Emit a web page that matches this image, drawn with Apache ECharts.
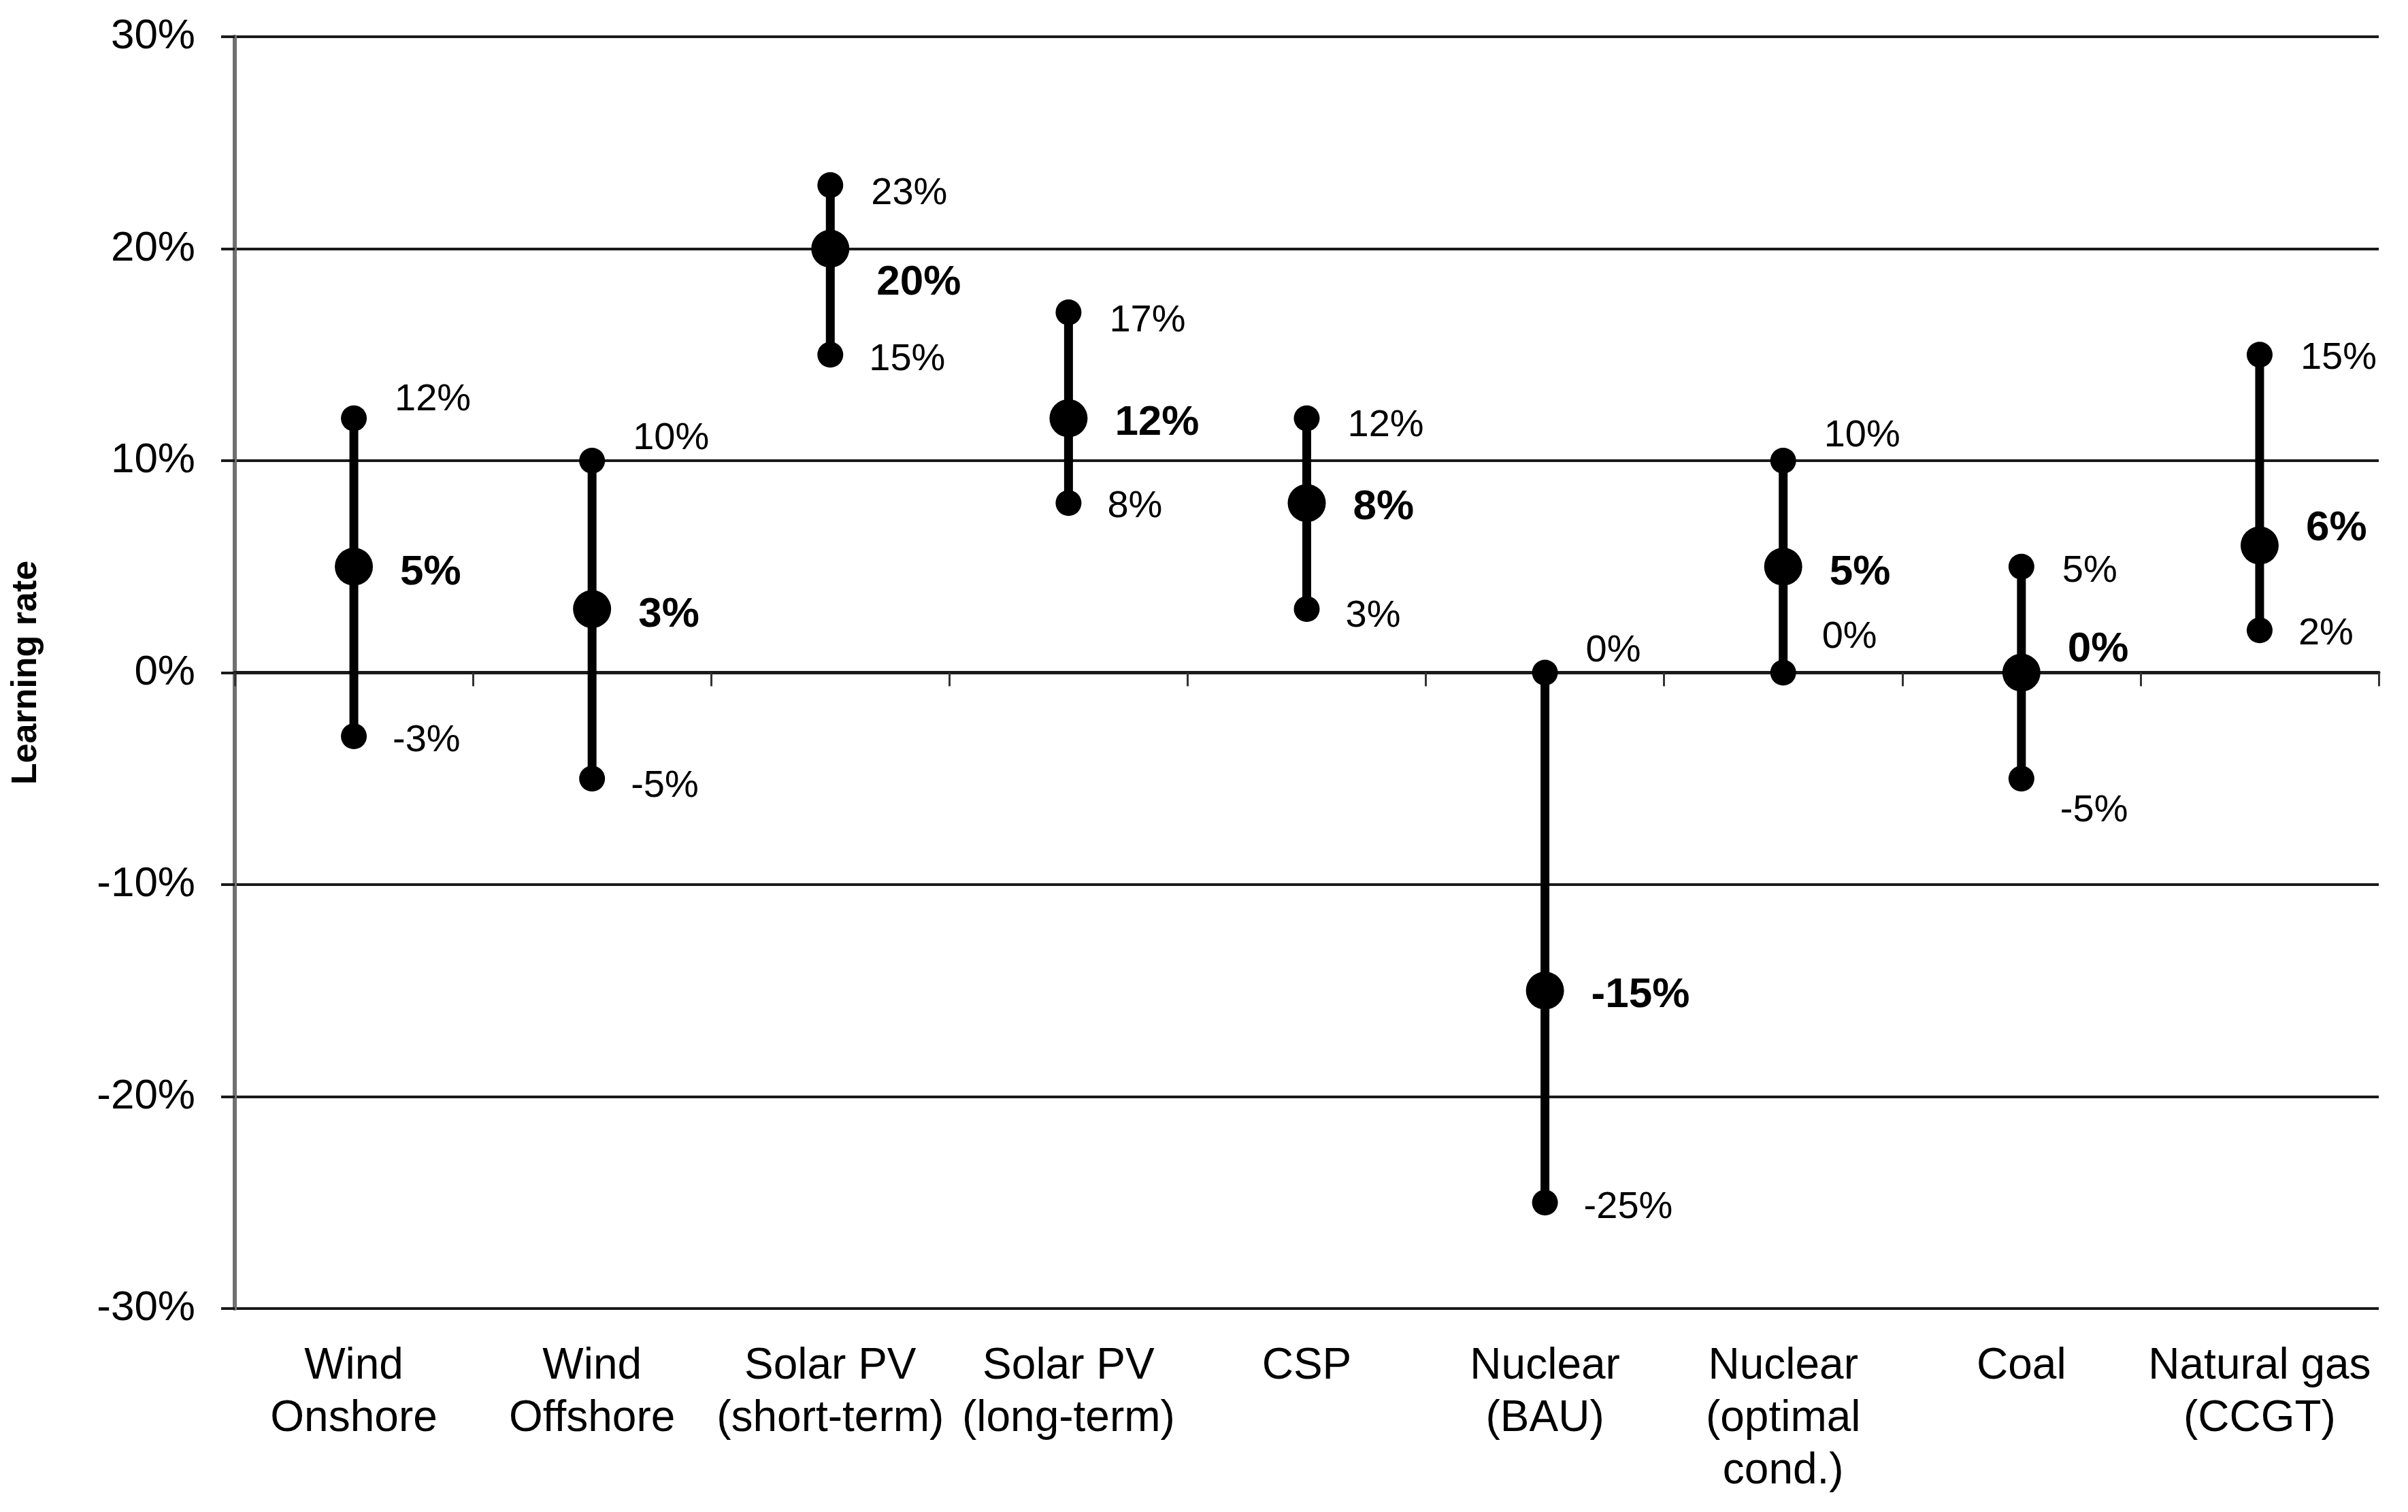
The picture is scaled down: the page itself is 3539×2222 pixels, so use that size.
<!DOCTYPE html>
<html>
<head>
<meta charset="utf-8">
<script src="https://cdn.jsdelivr.net/npm/echarts@6/dist/echarts.min.js"></script>
<style>
  html, body { margin: 0; padding: 0; background: #ffffff; }
  #chart { width: 3539px; height: 2222px; }
</style>
</head>
<body>
<div id="chart"></div>
<script>
// ---- data ----
const categories = [
  'Wind\nOnshore', 'Wind\nOffshore', 'Solar PV\n(short-term)', 'Solar PV\n(long-term)',
  'CSP', 'Nuclear\n(BAU)', 'Nuclear\n(optimal\ncond.)', 'Coal', 'Natural gas\n(CCGT)'
];
const maxValues    = [12, 10, 23, 17, 12,   0, 10,  5, 15];
const medianValues = [ 5,  3, 20, 12,  8, -15,  5,  0,  6];
const minValues    = [-3, -5, 15,  8,  3, -25,  0, -5,  2];
const yTicks = { min: -30, max: 30, step: 10 };

// ---- label nudges (vertical, px), styling only ----
const maxNudge    = [-27, -32, 13, 13, 11, -32, -36, 7, 5];
const medianNudge = [9, 9, 50, 7, 7, 7, 9, -34, -25];
const minNudge    = [7, 11, 7, 5, 11, 7, -52, 47, 5];

const FONT = '"Liberation Sans", Arial, Helvetica, sans-serif';

const chart = echarts.init(document.getElementById('chart'), null, { renderer: 'canvas' });

function pointData(values, nudges) {
  return values.map((v, i) => ({ value: v, label: { offset: [0, nudges[i]] } }));
}

const option = {
  backgroundColor: '#ffffff',
  animation: false,
  grid: { left: 345, right: 43, top: 54, bottom: 299, containLabel: false },
  xAxis: [
    {
      type: 'category',
      data: categories,
      position: 'bottom',
      axisLine: { show: false, onZero: false },
      axisTick: { show: false },
      splitLine: { show: false },
      axisLabel: {
        interval: 0,
        margin: 47,
        fontFamily: FONT,
        fontSize: 64,
        lineHeight: 77,
        color: '#000000',
        verticalAlign: 'top'
      }
    },
    {
      type: 'category',
      data: categories,
      position: 'top',
      axisLine: { show: true, onZero: true, lineStyle: { color: '#1a1a1a', width: 5 } },
      axisTick: { show: true, inside: true, length: 20, lineStyle: { color: '#333333', width: 3 } },
      axisLabel: { show: false },
      splitLine: { show: false }
    }
  ],
  yAxis: {
    type: 'value',
    min: yTicks.min,
    max: yTicks.max,
    interval: yTicks.step,
    name: 'Learning rate',
    nameLocation: 'middle',
    nameGap: 280,
    nameRotate: 90,
    nameTextStyle: { fontFamily: FONT, fontSize: 52, fontWeight: 'bold', color: '#000000' },
    axisLine: { show: true, lineStyle: { color: '#707070', width: 6 } },
    axisTick: { show: true, length: 20, lineStyle: { color: '#1a1a1a', width: 4 } },
    axisLabel: {
      margin: 58,
      fontFamily: FONT,
      fontSize: 62,
      color: '#000000',
      formatter: '{value}%'
    },
    splitLine: { show: true, lineStyle: { color: '#1a1a1a', width: 4 } }
  },
  series: [
    {
      type: 'custom',
      name: 'range',
      xAxisIndex: 0,
      z: 2,
      data: categories.map((c, i) => [i, minValues[i], maxValues[i]]),
      encode: { x: 0, y: [1, 2] },
      renderItem: function (params, api) {
        const p1 = api.coord([api.value(0), api.value(1)]);
        const p2 = api.coord([api.value(0), api.value(2)]);
        return {
          type: 'line',
          shape: { x1: p1[0], y1: p1[1], x2: p2[0], y2: p2[1] },
          style: { stroke: '#000000', lineWidth: 13 }
        };
      }
    },
    {
      type: 'scatter',
      name: 'max',
      xAxisIndex: 0,
      z: 3,
      symbol: 'circle',
      symbolSize: 38,
      itemStyle: { color: '#000000', opacity: 1 },
      label: {
        show: true, position: 'right', distance: 41,
        fontFamily: FONT, fontSize: 56, color: '#000000',
        formatter: p => p.value + '%'
      },
      data: pointData(maxValues, maxNudge)
    },
    {
      type: 'scatter',
      name: 'min',
      xAxisIndex: 0,
      z: 3,
      symbol: 'circle',
      symbolSize: 38,
      itemStyle: { color: '#000000', opacity: 1 },
      label: {
        show: true, position: 'right', distance: 38,
        fontFamily: FONT, fontSize: 56, color: '#000000',
        formatter: p => p.value + '%'
      },
      data: pointData(minValues, minNudge)
    },
    {
      type: 'scatter',
      name: 'median',
      xAxisIndex: 0,
      z: 4,
      symbol: 'circle',
      symbolSize: 56,
      itemStyle: { color: '#000000', opacity: 1 },
      label: {
        show: true, position: 'right', distance: 40,
        fontFamily: FONT, fontSize: 62, fontWeight: 'bold', color: '#000000',
        formatter: p => p.value + '%'
      },
      data: pointData(medianValues, medianNudge)
    }
  ]
};

chart.setOption(option);
</script>
</body>
</html>
